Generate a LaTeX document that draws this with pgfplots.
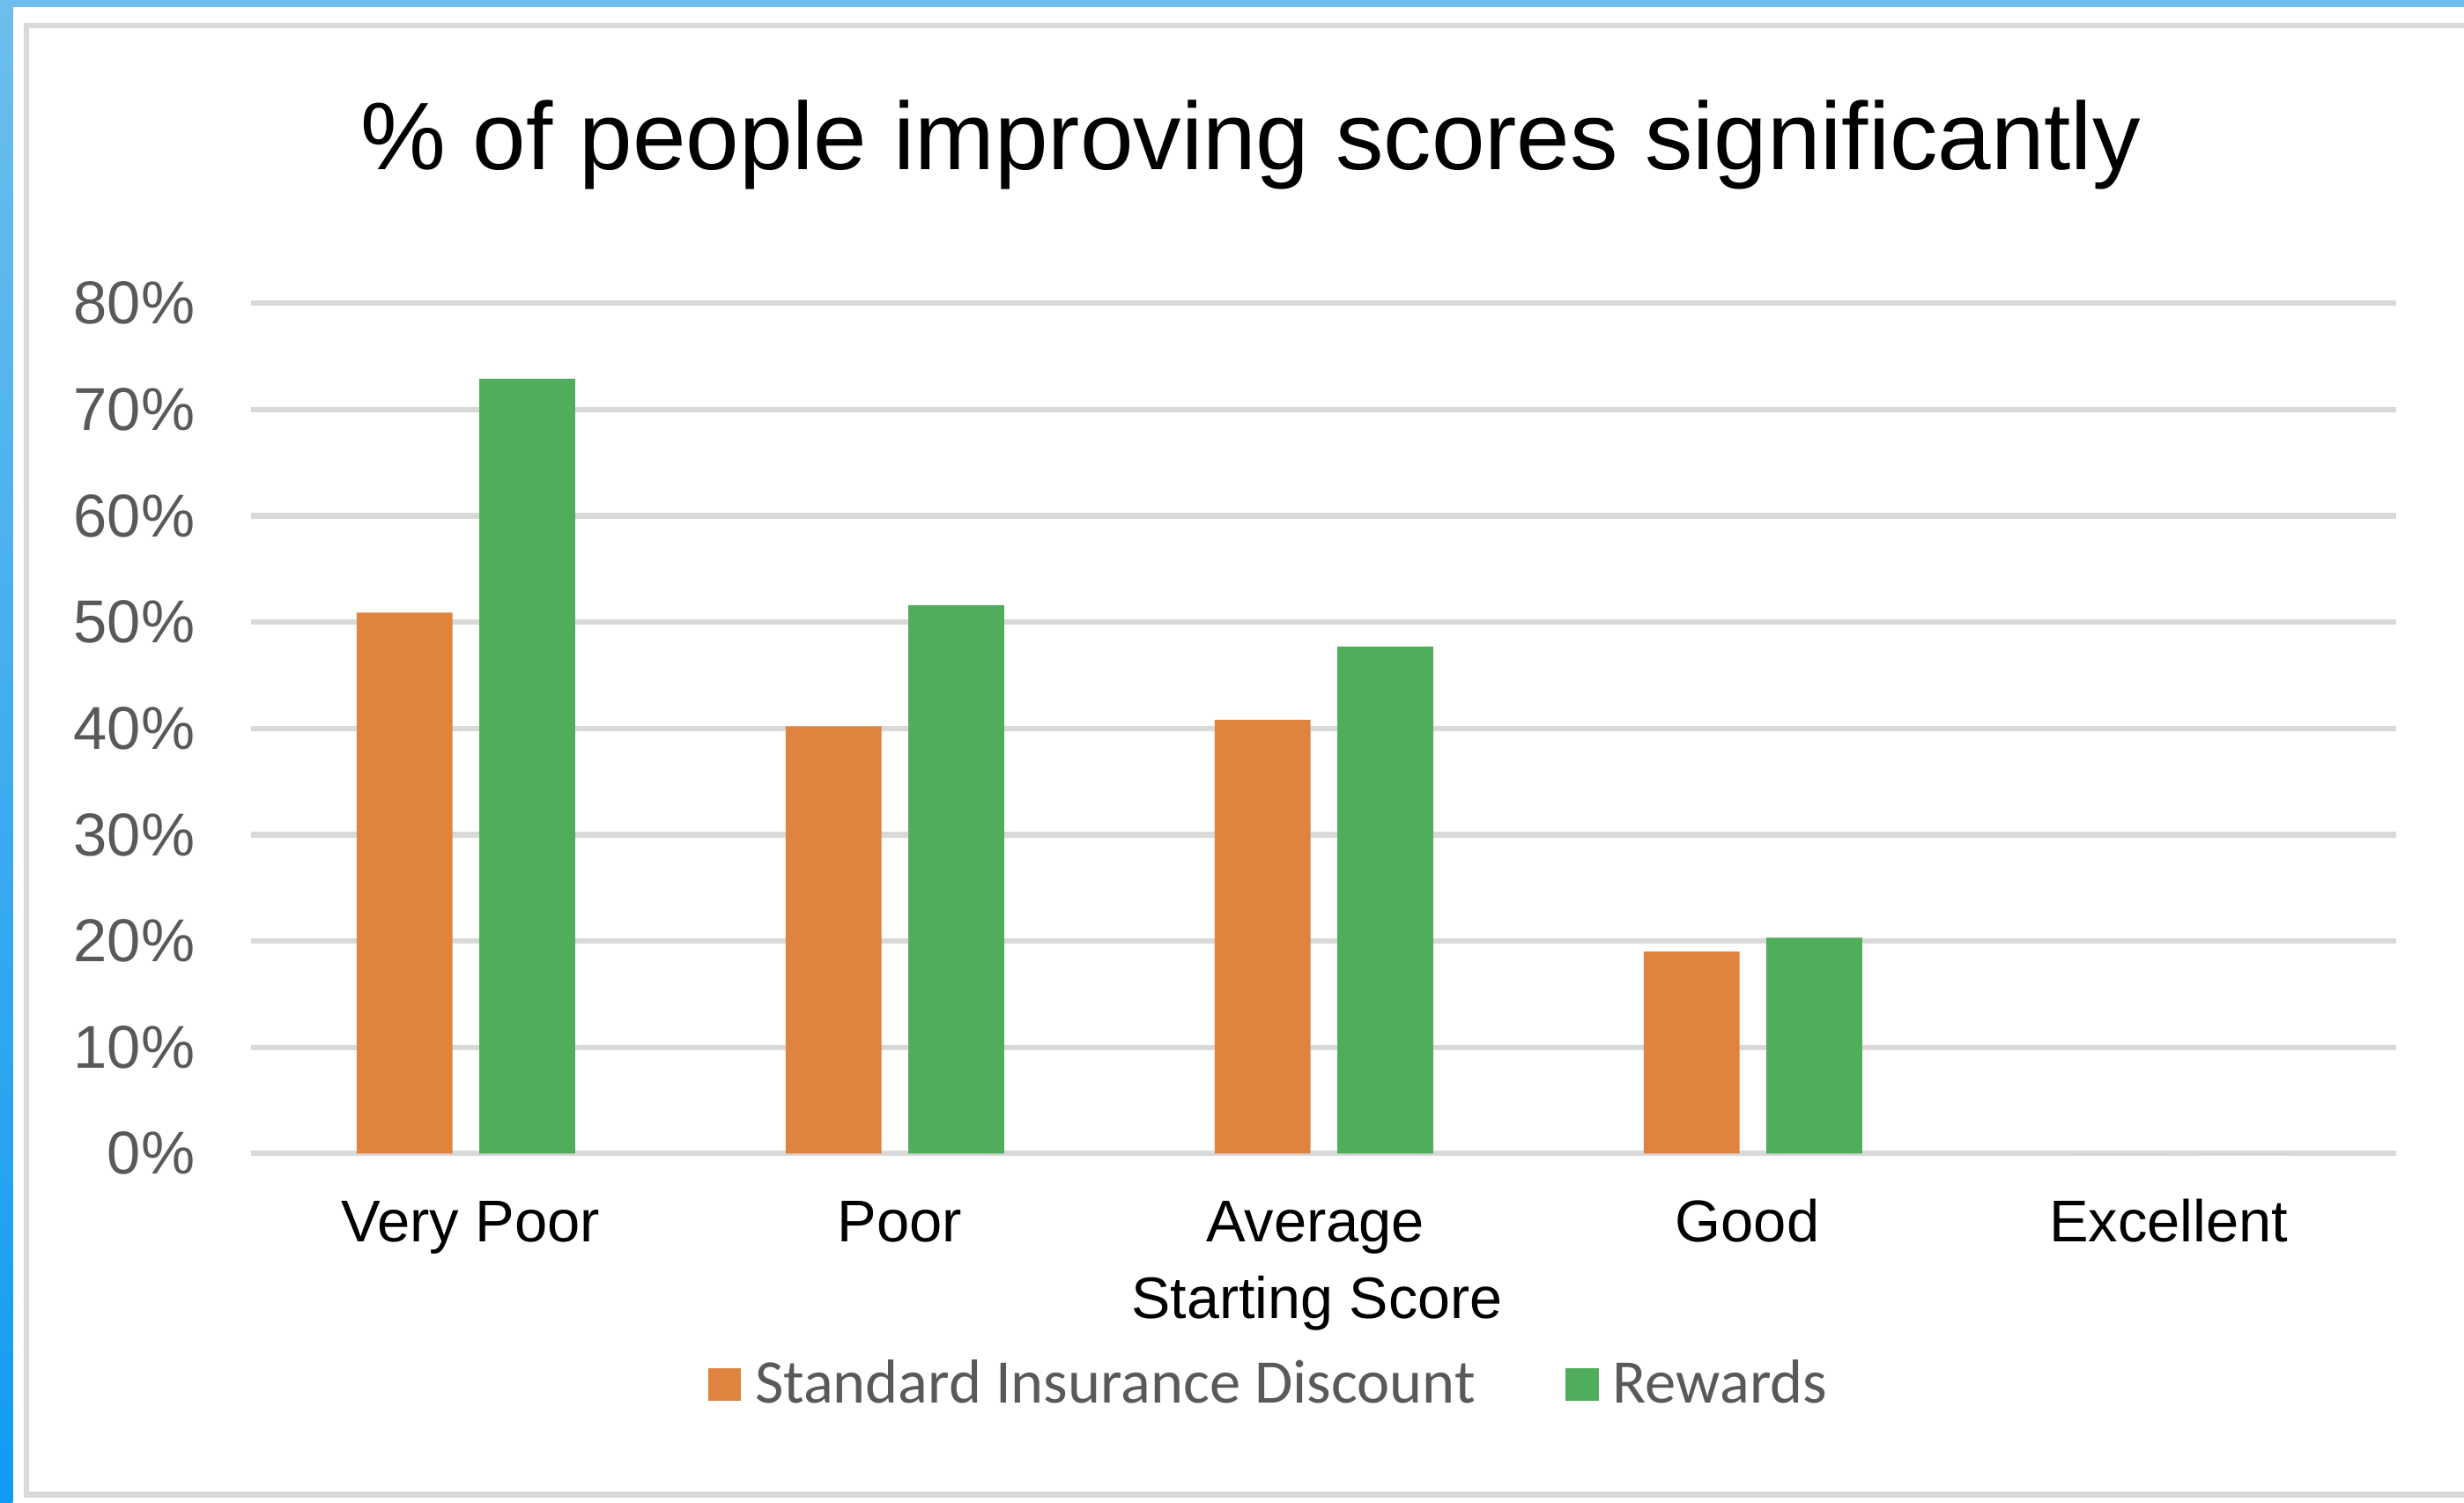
\documentclass[border=0pt]{standalone}
\usepackage{pgfplots}
\pgfplotsset{compat=1.18}
\usepackage{fontspec}
\setmainfont{Liberation Sans}
\newfontfamily\carlito{Carlito}
\definecolor{barorange}{HTML}{E0833F}
\definecolor{bargreen}{HTML}{4FAD5B}
\definecolor{gridgray}{HTML}{D9D9D9}
\definecolor{labelgray}{HTML}{595959}
\definecolor{blueA}{HTML}{6DBEEC}
\definecolor{blueB}{HTML}{129BF2}
\begin{document}
\begin{tikzpicture}
\useasboundingbox (0,0) rectangle (627.2pt,382.4pt);
\fill[white] (0,0) rectangle (627.2pt,382.4pt);
\fill[blueA] (0,380.6pt) rectangle (627.2pt,382.4pt);
\shade[top color=blueA,bottom color=blueB] (0,0) rectangle (3.2pt,382.4pt);
\draw[gridgray,line width=1.4pt] (630pt,375.9pt) -- (6.8pt,375.9pt) -- (6.8pt,2pt) -- (630pt,2pt);
\begin{axis}[
  scale only axis, width=546pt, height=216.4pt,
  at={(64pt,88.8pt)}, anchor=south west,
  xmin=-0.5, xmax=4.5, ymin=0, ymax=80,
  xtick={0.011,1.011,1.980,2.987,3.969},
  xticklabels={Very Poor,Poor,Average,Good,Excellent},
  ytick={0,10,...,80},
  yticklabels={0\%,10\%,20\%,30\%,40\%,50\%,60\%,70\%,80\%},
  ymajorgrids, major grid style={gridgray,line width=1.4pt},
  axis line style={draw=none}, major tick length=0pt, tick style={draw=none},
  ybar=6.8pt, bar width=24.4pt,
  yticklabel style={anchor=east, inner sep=0pt, xshift=-14.2pt, text=labelgray, font=\fontsize{15.4}{18}\selectfont},
  xticklabel style={anchor=base, inner sep=0pt, yshift=-22.4pt, font=\fontsize{15.0}{18}\selectfont},
  xlabel={Starting Score},
  xlabel style={at={(axis description cs:0.4967,0)}, anchor=base, inner sep=0pt, yshift=-42pt, font=\fontsize{14.9}{18}\selectfont},
  title={\% of people improving scores significantly},
  every axis title shift=0pt,
  title style={at={(axis description cs:0.4659,1.1571)}, anchor=base, inner sep=0pt, font=\fontsize{24.4}{28}\selectfont},
  legend columns=2,
  legend style={at={(axis description cs:0.2132,-0.2717)}, anchor=west, xshift=-0.4pt, draw=none, fill=none, inner sep=0pt,
    font=\carlito\fontsize{15.8}{18}\selectfont, text=labelgray,
    /tikz/every even column/.append style={column sep=21pt}},
]
\addplot[fill=barorange, draw=none, legend image code/.code={\fill[barorange] (0pt,-4.25pt) rectangle (8.4pt,4.25pt); \path (10pt,0pt);}]
  coordinates {(0,50.9) (1,40.2) (2,40.8) (3,19.0) (4,0)};
\addlegendentry{Standard Insurance Discount}
\addplot[fill=bargreen, draw=none, legend image code/.code={\fill[bargreen] (0pt,-4.25pt) rectangle (8.4pt,4.25pt); \path (10pt,0pt);}]
  coordinates {(0,72.9) (1,51.6) (2,47.7) (3,20.3) (4,0)};
\addlegendentry{Rewards}
\end{axis}
\end{tikzpicture}
\end{document}
